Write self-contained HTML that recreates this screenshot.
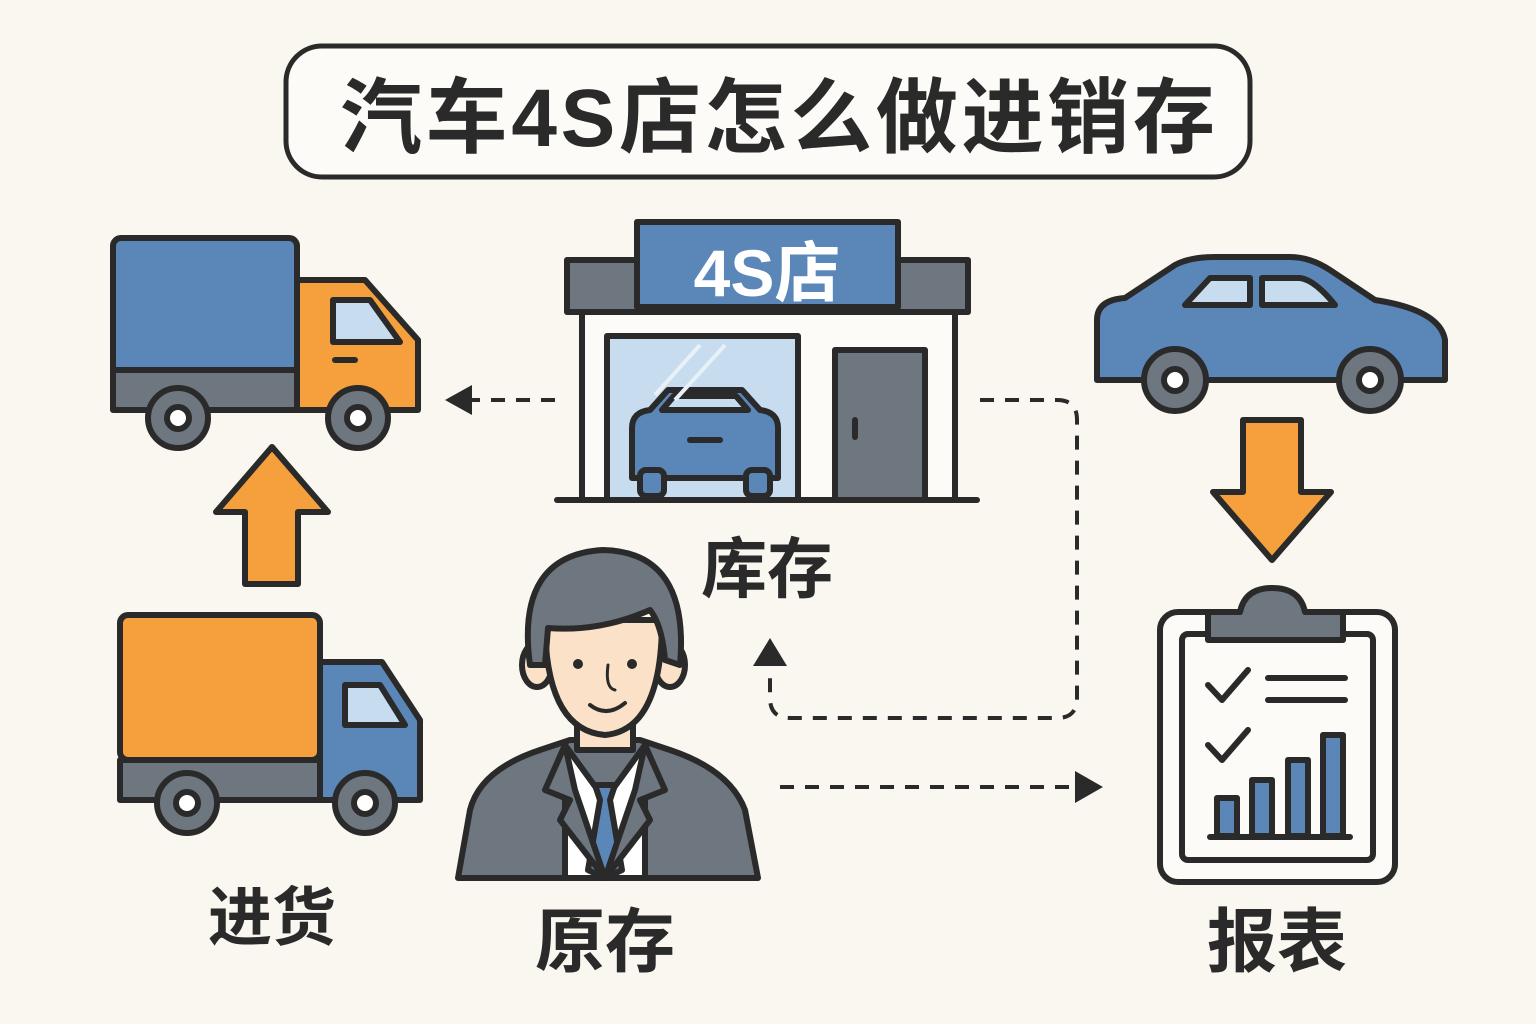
<!DOCTYPE html>
<html><head><meta charset="utf-8"><style>
html,body{margin:0;padding:0;background:#faf6f0;}
svg{display:block}
text{font-family:"Liberation Sans","Noto Sans CJK SC",sans-serif;font-weight:bold;fill:#2a2a2a}
</style></head><body>
<svg width="1536" height="1024" viewBox="0 0 1536 1024" xmlns="http://www.w3.org/2000/svg">
<rect width="1536" height="1024" fill="#faf6f0"/>
<g stroke="#2a2a2a" stroke-width="6" stroke-linejoin="round" stroke-linecap="round">
<!-- title -->
<rect x="286" y="46" width="964" height="131" rx="36" fill="#fdfbf7" stroke-width="5"/>
<!-- truck 1 -->
<rect x="113" y="238" width="184" height="172" rx="8" fill="#5b86b8"/>
<rect x="113" y="370" width="184" height="40" fill="#6e7680"/>
<path d="M297 280 H365 L418 340 V410 H297 Z" fill="#f5a03c"/>
<path d="M333 300 H370 L400 342 H333 Z" fill="#c8dcef"/>
<line x1="335" y1="360" x2="355" y2="360"/>
<circle cx="178" cy="418" r="30" fill="#6e7680"/><circle cx="178" cy="418" r="11" fill="#fff"/>
<circle cx="358" cy="418" r="30" fill="#6e7680"/><circle cx="358" cy="418" r="11" fill="#fff"/>
<!-- up arrow -->
<path d="M272 447 L328 512 H298 V584 H245 V512 H216 Z" fill="#f5a03c"/>
<!-- truck 2 -->
<rect x="120" y="615" width="200" height="145" rx="8" fill="#f5a03c"/>
<rect x="120" y="760" width="200" height="40" fill="#6e7680"/>
<path d="M320 662 H382 L420 720 V800 H320 Z" fill="#5b86b8"/>
<path d="M345 685 H380 L405 725 H345 Z" fill="#c8dcef"/>
<circle cx="187" cy="803" r="30" fill="#6e7680"/><circle cx="187" cy="803" r="11" fill="#fff"/>
<circle cx="365" cy="803" r="30" fill="#6e7680"/><circle cx="365" cy="803" r="11" fill="#fff"/>
<!-- store -->
<rect x="582" y="312" width="373" height="188" fill="#fdfbf7"/>
<rect x="567" y="260" width="401" height="52" fill="#6e7680"/>
<rect x="637" y="222" width="261" height="85" fill="#5b86b8"/>
<rect x="607" y="336" width="191" height="164" fill="#c8dcef"/>
<rect x="835" y="350" width="90" height="150" fill="#6e7680"/>
<line x1="855" y1="420" x2="855" y2="437"/>
<line x1="557" y1="500" x2="977" y2="500"/>
<path d="M632 478 V428 Q632 412 650 410 L668 390 H742 L760 410 Q778 412 778 428 V478 Z" fill="#5b86b8"/>
<path d="M662 410 L674 396 H736 L748 410 Z" fill="#c8dcef"/>
<rect x="640" y="470" width="24" height="26" rx="6" fill="#5b86b8"/>
<rect x="746" y="470" width="24" height="26" rx="6" fill="#5b86b8"/>
<line x1="690" y1="440" x2="720" y2="440"/>
</g>
<g stroke="#e8f0f8" stroke-width="4"><line x1="655" y1="395" x2="700" y2="345"/><line x1="675" y1="400" x2="725" y2="345"/></g>
<g stroke="#2a2a2a" stroke-width="6" stroke-linejoin="round" stroke-linecap="round">
<!-- car right -->
<path d="M1097 380 V320 Q1097 300 1125 298 L1175 265 Q1190 257 1215 257 H1290 Q1310 257 1330 270 L1375 300 Q1440 310 1445 340 V380 Z" fill="#5b86b8"/>
<path d="M1185 305 L1210 278 H1250 V305 Z" fill="#c8dcef"/>
<path d="M1262 305 V278 H1300 Q1315 280 1335 305 Z" fill="#c8dcef"/>
<circle cx="1175" cy="380" r="31" fill="#6e7680"/><circle cx="1175" cy="380" r="11" fill="#fff"/>
<circle cx="1370" cy="380" r="31" fill="#6e7680"/><circle cx="1370" cy="380" r="11" fill="#fff"/>
<!-- down arrow -->
<path d="M1243 420 H1301 V492 H1331 L1272 560 L1213 492 H1243 Z" fill="#f5a03c"/>
<!-- clipboard -->
<rect x="1160" y="612" width="235" height="270" rx="18" fill="#fdfbf7"/>
<rect x="1182" y="634" width="191" height="226" rx="6" fill="#fdfbf7"/>
<path d="M1208 640 V612 H1240 Q1245 588 1272 588 Q1300 588 1305 612 H1343 V640 Z" fill="#6e7680"/>
<path d="M1208 685 L1222 700 L1248 670" fill="none"/>
<path d="M1208 745 L1222 760 L1248 730" fill="none"/>
<line x1="1268" y1="678" x2="1345" y2="678"/><line x1="1268" y1="700" x2="1345" y2="700"/>
<line x1="1210" y1="837" x2="1350" y2="837"/>
<rect x="1217" y="798" width="20" height="38" fill="#5b86b8"/>
<rect x="1252" y="780" width="20" height="56" fill="#5b86b8"/>
<rect x="1288" y="760" width="20" height="76" fill="#5b86b8"/>
<rect x="1323" y="735" width="20" height="101" fill="#5b86b8"/>
<!-- person -->
<path d="M458 878 L470 810 Q480 770 540 750 L570 740 H640 L670 750 Q730 770 745 810 L758 878 Z" fill="#6e7680"/>
<path d="M565 745 L605 800 L645 745 V878 H565 Z" fill="#fff"/>
<path d="M595 785 H615 L610 800 L622 870 L605 878 L588 870 L600 800 Z" fill="#5b86b8"/>
<path d="M565 745 L545 790 L570 800 L560 820 L605 878 L575 790 Z" fill="#6e7680"/>
<path d="M645 745 L665 790 L640 800 L650 820 L605 878 L635 790 Z" fill="#6e7680"/>
<rect x="577" y="705" width="56" height="45" fill="#fbe1c8"/>
<ellipse cx="537" cy="665" rx="15" ry="22" fill="#fbe1c8"/>
<ellipse cx="670" cy="665" rx="15" ry="22" fill="#fbe1c8"/>
<path d="M545 620 Q545 730 605 735 Q662 730 662 620 Z" fill="#fbe1c8"/>
<path d="M530 665 Q515 555 603 550 Q690 552 680 665 L665 660 Q662 625 650 610 Q600 632 548 628 L545 665 Z" fill="#6e7680"/>
<path d="M590 705 Q607 718 625 703" fill="none" stroke-width="4"/>
<path d="M608 665 Q605 688 615 690" fill="none" stroke-width="3"/>
</g>
<circle cx="578" cy="664" r="5" fill="#2a2a2a"/><circle cx="632" cy="664" r="5" fill="#2a2a2a"/>
<!-- dashed connectors -->
<g stroke="#2a2a2a" stroke-width="4" fill="none" stroke-dasharray="14 11">
<line x1="555" y1="400" x2="470" y2="400"/>
<path d="M980 400 H1057 Q1077 400 1077 420 V698 Q1077 718 1057 718 H790 Q770 718 770 698 V668"/>
<line x1="780" y1="787" x2="1075" y2="787"/>
</g>
<path d="M445 400 L472 385 V415 Z" fill="#2a2a2a"/>
<path d="M770 638 L753 666 H787 Z" fill="#2a2a2a"/>
<path d="M1103 787 L1075 771 V803 Z" fill="#2a2a2a"/>
<!-- texts -->
<text x="340" y="146" font-size="82" textLength="875" lengthAdjust="spacing">汽车4S店怎么做进销存</text>
<text x="767" y="296" font-size="66" text-anchor="middle" style="fill:#fff">4S店</text>
<text x="767" y="592" font-size="66" text-anchor="middle">库存</text>
<text x="272" y="940" font-size="64" text-anchor="middle">进货</text>
<text x="605" y="966" font-size="70" text-anchor="middle">原存</text>
<text x="1277" y="966" font-size="70" text-anchor="middle">报表</text>
</svg>
</body></html>
